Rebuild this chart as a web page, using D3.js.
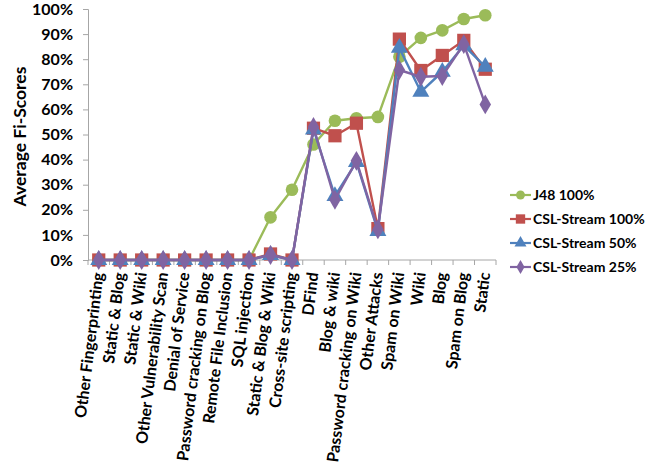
<!DOCTYPE html>
<html>
<head>
<meta charset="utf-8">
<script src="https://cdn.jsdelivr.net/npm/d3@7"></script>
<style>
  html, body { margin: 0; padding: 0; background: #fff; }
  svg { display: block; font-family: Lato, "Open Sans", sans-serif; font-weight: bold; }
</style>
</head>
<body>
<svg id="chart" width="662" height="465"></svg>
<script>
// Attack categories along the x axis
const categories = [
  "Other Fingerprinting", "Static & Blog", "Static & Wiki", "Other Vulnerability Scan",
  "Denial of Service", "Password cracking on Blog", "Remote File Inclusion", "SQL injection",
  "Static & Blog & Wiki", "Cross-site scripting", "DFind", "Blog & wiki",
  "Password cracking on Wiki", "Other Attacks", "Spam on Wiki", "Wiki", "Blog",
  "Spam on Blog", "Static"
];

// Average F-scores per category (fractions of 1)
const j48_100 = [0, 0, 0, 0, 0, 0, 0, 0, 0.17, 0.28, 0.46, 0.555, 0.565, 0.57, 0.81, 0.885, 0.915, 0.96, 0.975];
const csl_100 = [0, 0, 0, 0, 0, 0, 0, 0, 0.024, 0, 0.525, 0.495, 0.545, 0.125, 0.88, 0.755, 0.815, 0.875, 0.76];
const csl_50  = [0, 0, 0, 0, 0, 0, 0, 0, 0.02, 0, 0.52, 0.255, 0.39, 0.115, 0.845, 0.67, 0.75, 0.855, 0.77];
const csl_25  = [0, 0, 0, 0, 0, 0, 0, 0, 0.02, 0, 0.53, 0.24, 0.395, 0.122, 0.757, 0.73, 0.733, 0.86, 0.62];

const seriesNames = ["J48 100%", "CSL-Stream 100%", "CSL-Stream 50%", "CSL-Stream 25%"];
const yTicks = [0, 0.1, 0.2, 0.3, 0.4, 0.5, 0.6, 0.7, 0.8, 0.9, 1.0];

const series = [
  { name: seriesNames[0], values: j48_100, color: "#9BBB59", symbol: d3.symbolCircle, size: 125 },
  { name: seriesNames[1], values: csl_100, color: "#C0504D", symbol: d3.symbolSquare, size: 175 },
  { name: seriesNames[2], values: csl_50,  color: "#4F81BD", symbol: d3.symbolTriangle, size: 125 },
  { name: seriesNames[3], values: csl_25,  color: "#8064A2", symbol: d3.symbolDiamond, size: 115 }
];

const svg = d3.select("#chart");
const plot = { left: 88, right: 496, top: 9, bottom: 260 };

const x = d3.scaleBand().domain(categories).range([plot.left, plot.right]);
const y = d3.scaleLinear().domain([0, 1]).range([plot.bottom, plot.top]);
const axisColor = "#A6A6A6";

// Y axis
const yAxis = svg.append("g")
  .attr("transform", `translate(${plot.left},0)`)
  .call(d3.axisLeft(y).tickValues(yTicks).tickFormat(d3.format(".0%")).tickSize(5).tickPadding(10));
yAxis.select(".domain").attr("stroke", axisColor);
yAxis.selectAll(".tick line").attr("stroke", axisColor);
yAxis.selectAll(".tick text")
  .attr("fill", "#000").style("font-size", "16px").style("font-weight", "bold").style("font-family", "Lato, sans-serif");

// X axis: ticks sit on category boundaries
const xAxis = svg.append("g")
  .attr("transform", `translate(0,${plot.bottom})`);
xAxis.append("line")
  .attr("x1", plot.left).attr("x2", plot.right)
  .attr("stroke", axisColor);
const boundaries = categories.map(c => x(c)).concat([plot.right]);
xAxis.selectAll("line.tick").data(boundaries).join("line")
  .attr("class", "tick")
  .attr("x1", d => d).attr("x2", d => d)
  .attr("y1", 0).attr("y2", 5)
  .attr("stroke", axisColor);
xAxis.selectAll("text").data(categories).join("text")
  .attr("transform", d => `translate(${x(d) + x.bandwidth() / 2 + 5},13) rotate(-83)`)
  .attr("text-anchor", "end")
  .style("font-size", "16px")
  .text(d => d);

// Y axis title
svg.append("text")
  .attr("transform", `translate(26,${(plot.top + plot.bottom) / 2 + 2}) rotate(-90)`)
  .attr("text-anchor", "middle")
  .style("font-size", "17.5px")
  .text("Average Fi-Scores");

// Lines and markers
const cx = i => x(categories[i]) + x.bandwidth() / 2;
const line = d3.line().x((d, i) => cx(i)).y(d => y(d));

series.forEach(s => {
  const g = svg.append("g");
  g.append("path")
    .datum(s.values)
    .attr("fill", "none")
    .attr("stroke", s.color)
    .attr("stroke-width", 2.4)
    .attr("stroke-linejoin", "round")
    .attr("d", line);
  g.selectAll("path.marker").data(s.values).join("path")
    .attr("class", "marker")
    .attr("transform", (d, i) => `translate(${cx(i)},${y(d)})`)
    .attr("d", d3.symbol().type(s.symbol).size(s.size)())
    .attr("fill", s.color);
});

// Legend
const legend = svg.append("g").attr("transform", "translate(510,195)");
series.forEach((s, i) => {
  const row = legend.append("g").attr("transform", `translate(0,${i * 24})`);
  row.append("line").attr("x1", 0).attr("x2", 21).attr("y1", 0).attr("y2", 0)
    .attr("stroke", s.color).attr("stroke-width", 2.2);
  row.append("path")
    .attr("transform", "translate(10.5,0)")
    .attr("d", d3.symbol().type(s.symbol).size(s.size * 0.5)())
    .attr("fill", s.color);
  row.append("text").attr("x", 23).attr("y", 5)
    .style("font-size", "14px")
    .text(s.name);
});
</script>
</body>
</html>
